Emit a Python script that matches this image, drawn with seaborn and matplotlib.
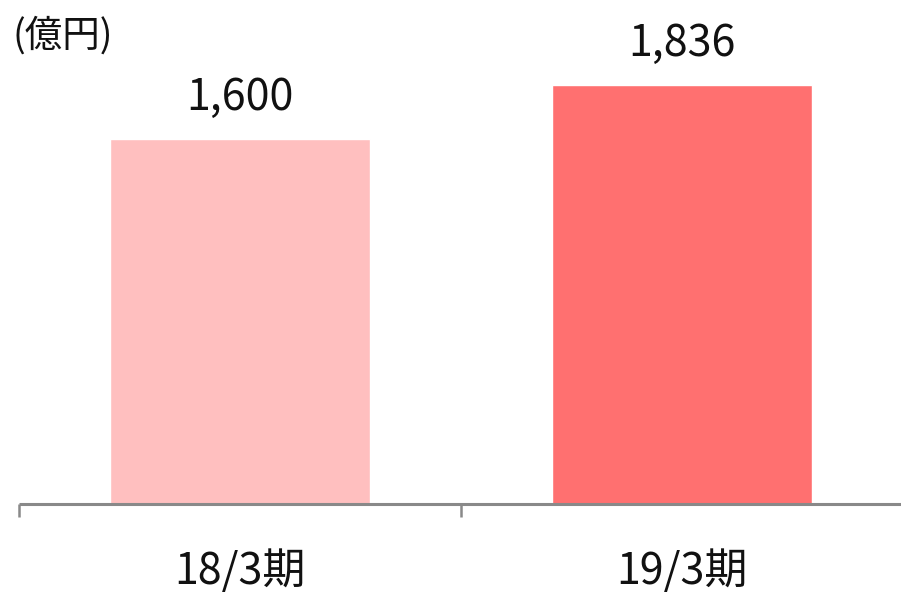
import matplotlib
matplotlib.use("Agg")
import matplotlib.pyplot as plt
import seaborn as sns
import pandas as pd

# Data
periods = ["18/3期", "19/3期"]
values = [1600, 1836]
value_labels = ["1,600", "1,836"]
bar_colors = ["#FFBFBF", "#FF7070"]
unit_label = "(億円)"

sns.set_theme(style="white")
plt.rcParams["font.family"] = ["Noto Sans CJK JP", "DejaVu Sans"]

df = pd.DataFrame({"period": periods, "value": values})

W, H = 901, 597
fig = plt.figure(figsize=(W / 100, H / 100), dpi=100)
# axes run past the right edge so the last boundary tick is cut off
ax = fig.add_axes([19 / W, 93 / H, 884 / W, 504 / H])

sns.barplot(data=df, x="period", y="value", hue="period", palette=bar_colors,
            width=0.588, legend=False, ax=ax, saturation=1)

ax.set_xlim(-0.5, 1.5)
ax.set_ylim(0, 2210)
ax.set_xlabel("")
ax.set_ylabel("")
ax.set_yticks([])

# Category boundary ticks on the baseline, labels centred under each bar
ax.set_xticks([-0.5, 0.5, 1.5])
ax.set_xticklabels([])
ax.set_xticks([0, 1], minor=True)
ax.set_xticklabels(periods, minor=True, fontsize=31, color="#111111")
ax.tick_params(axis="x", which="major", bottom=True, length=9.5, width=1.8,
               color="#898989", direction="out")
ax.tick_params(axis="x", which="minor", bottom=True, length=0, pad=33)

for side in ["left", "right", "top"]:
    ax.spines[side].set_visible(False)
ax.spines["bottom"].set_color("#898989")
ax.spines["bottom"].set_linewidth(2.2)
ax.spines["bottom"].set_capstyle("butt")

# Value labels above the bars
for i, (v, lbl) in enumerate(zip(values, value_labels)):
    ax.annotate(lbl, xy=(i, v), xytext=(0, 21), textcoords="offset points",
                ha="center", va="baseline", fontsize=31, color="#111111")

fig.text(12 / W, 1 - 36 / H, unit_label, ha="left", va="center",
         fontsize=27, color="#111111")

fig.savefig("out.png", dpi=100)
